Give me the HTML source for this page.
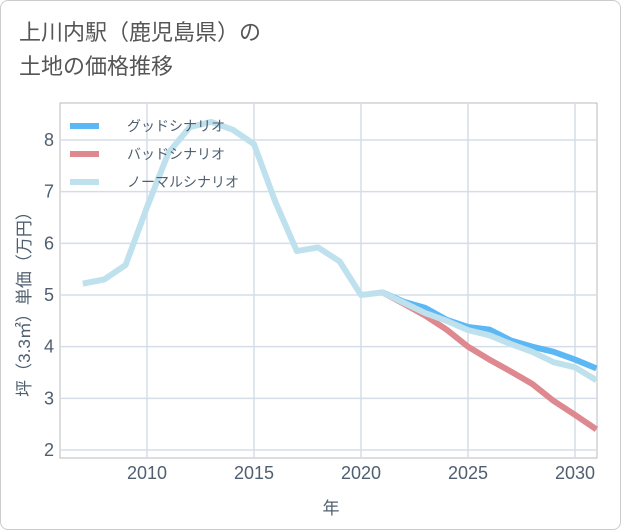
<!DOCTYPE html>
<html><head><meta charset="utf-8"><style>
body{margin:0;background:#fff;font-family:"Liberation Sans","Noto Sans CJK JP",sans-serif;}
#card{position:absolute;left:0;top:0;width:619px;height:528px;border:1px solid #ccc;border-radius:8px;background:#fff;}
#title{position:absolute;left:18px;top:15px;font-size:22px;line-height:34px;color:#555;}
</style></head><body>
<div id="card">
<div id="title">上川内駅（鹿児島県）の<br>土地の価格推移</div>
<svg id="chart" width="621" height="530" style="position:absolute;left:-1px;top:-1px"></svg>
</div>
<script>
const years=[2007,2008,2009,2010,2011,2012,2013,2014,2015,2016,2017,2018,2019,2020,2021,2022,2023,2024,2025,2026,2027,2028,2029,2030,2031];
const normal=[5.22,5.3,5.58,6.7,7.75,8.25,8.35,8.2,7.92,6.8,5.85,5.92,5.65,5.0,5.05,4.85,4.65,4.5,4.32,4.22,4.05,3.9,3.7,3.6,3.35];
const goodYears=[2021,2022,2023,2024,2025,2026,2027,2028,2029,2030,2031];
const good=[5.05,4.87,4.75,4.52,4.38,4.33,4.12,4.0,3.9,3.75,3.58];
const bad=[5.05,4.83,4.6,4.33,4.0,3.75,3.52,3.28,2.95,2.68,2.4];
const xTicks=[2010,2015,2020,2025,2030];
const yTicks=[2,3,4,5,6,7,8];
const L=60,R=597,T=103,B=458;
const x=v=>147+(v-2010)*21.4;
const y=v=>450-(v-2)*51.67;
const svg=document.getElementById('chart');
const NS='http://www.w3.org/2000/svg';
const txtColor='#4f5f70';
function mk(tag,attrs,parent){const e=document.createElementNS(NS,tag);for(const k in attrs)e.setAttribute(k,attrs[k]);(parent||svg).appendChild(e);return e;}
const frame=mk('rect',{x:L,y:T,width:R-L,height:B-T,fill:'none',stroke:'#bbb'});


yTicks.forEach(t=>{
 const g=mk('line',{x1:L,x2:R,y1:y(t),y2:y(t),stroke:'#d5dde8','stroke-width':1.5});
 
 
 const tx=mk('text',{x:L-6,y:y(t)+6,'text-anchor':'end','font-size':18,fill:txtColor});
 tx.textContent=t;
 
 
});
xTicks.forEach(t=>{
 const g=mk('line',{x1:x(t),x2:x(t),y1:T,y2:B,stroke:'#d5dde8','stroke-width':1.5});
 
 
 const tx=mk('text',{x:x(t),y:B+21,'text-anchor':'middle','font-size':18,fill:txtColor});
 tx.textContent=t;
 
 
});
function line(xs,vs,color,name){
 const p=mk('polyline',{points:xs.map((yr,i)=>x(yr)+','+y(vs[i])).join(' '),fill:'none',stroke:color,'stroke-width':6,'stroke-linejoin':'round'});
 
 
}
line(goodYears,good,'#5bb8f5','good-scenario-line');
line(goodYears,bad,'#de8890','bad-scenario-line');
line(years,normal,'#bfe1ee','normal-scenario-line');
const leg=[['グッドシナリオ','#5bb8f5'],['バッドシナリオ','#de8890'],['ノーマルシナリオ','#bfe1ee']];
leg.forEach((l,i)=>{
 const yy=126+i*28;
 const s=mk('line',{x1:70,x2:99,y1:yy,y2:yy,stroke:l[1],'stroke-width':6});
 
 
 const t=mk('text',{x:127,y:yy+5,'font-size':14,fill:txtColor});
 t.textContent=l[0];
 
 
});
const xt=mk('text',{x:331,y:514,'text-anchor':'middle','font-size':17,fill:txtColor});
xt.textContent='年';


const yt=mk('text',{x:0,y:0,'text-anchor':'middle','font-size':17,fill:txtColor,transform:'translate(30,300) rotate(-90)'});
yt.textContent='坪（3.3㎡）単価（万円）';


</script>
</body></html>
